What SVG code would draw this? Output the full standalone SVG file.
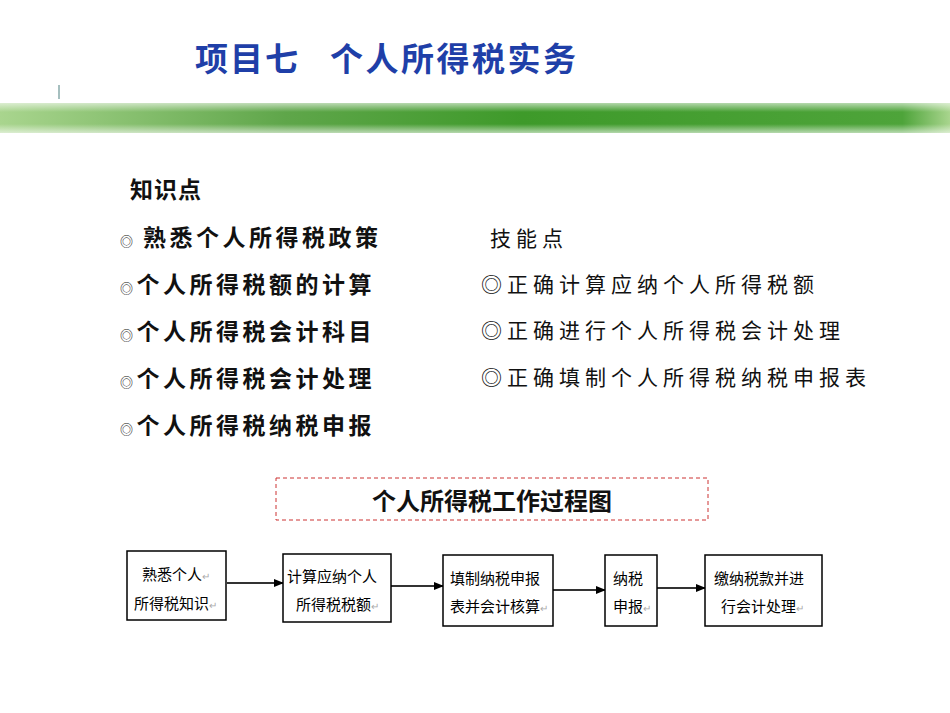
<svg xmlns="http://www.w3.org/2000/svg" width="950" height="713" viewBox="0 0 950 713">
<defs>
<linearGradient id="band" x1="0" x2="1" y1="0" y2="0">
<stop offset="0" stop-color="#a9d58e"/><stop offset="0.3" stop-color="#5fa64a"/><stop offset="0.55" stop-color="#3e9a2a"/><stop offset="0.95" stop-color="#4ea43a"/><stop offset="1" stop-color="#a9d58e"/>
</linearGradient>
<linearGradient id="bandv" x1="0" x2="0" y1="0" y2="1">
<stop offset="0" stop-color="#fff" stop-opacity="0.6"/><stop offset="0.3" stop-color="#fff" stop-opacity="0"/><stop offset="0.7" stop-color="#fff" stop-opacity="0"/><stop offset="1" stop-color="#fff" stop-opacity="0.6"/>
</linearGradient>
<marker id="ah" markerWidth="10" markerHeight="8" refX="9" refY="4" orient="auto" markerUnits="userSpaceOnUse"><path d="M0,0 L10,4 L0,8 z" fill="#000"/></marker>
<style>
.t{font-family:"Noto Sans CJK SC",sans-serif;}
.k{font-weight:bold;font-size:23px;fill:#111;letter-spacing:3.5px;}
.s{font-size:21px;fill:#111;letter-spacing:5px;}
.b{fill:#fff;stroke:#000;stroke-width:1.5;}
.n{font-size:15px;fill:#000;}
.r{fill:#aaa;font-size:10px;}
.c{stroke:#333;stroke-width:2;fill:none;marker-end:url(#ah);}
</style>
</defs>
<rect width="950" height="713" fill="#fff"/>
<text class="t" x="195" y="71" font-size="33" font-weight="bold" fill="#1f3fa8" letter-spacing="2">项目七</text>
<text class="t" x="330" y="71" font-size="33" font-weight="bold" fill="#1f3fa8" letter-spacing="2.5">个人所得税实务</text>
<line x1="59" y1="85" x2="59" y2="99" stroke="#8aa" stroke-width="1.5"/>
<rect x="0" y="103" width="950" height="30" fill="url(#band)"/>
<rect x="0" y="103" width="950" height="30" fill="url(#bandv)"/>
<text class="t k" x="130" y="198" style="letter-spacing:1px">知识点</text>
<text class="t k" x="120" y="246"><tspan font-size="13" font-weight="normal">◎ </tspan>熟悉个人所得税政策</text>
<text class="t k" x="120" y="293"><tspan font-size="13" font-weight="normal">◎</tspan>个人所得税额的计算</text>
<text class="t k" x="120" y="340"><tspan font-size="13" font-weight="normal">◎</tspan>个人所得税会计科目</text>
<text class="t k" x="120" y="387"><tspan font-size="13" font-weight="normal">◎</tspan>个人所得税会计处理</text>
<text class="t k" x="120" y="434"><tspan font-size="13" font-weight="normal">◎</tspan>个人所得税纳税申报</text>
<text class="t s" x="490" y="246">技能点</text>
<text class="t s" x="481" y="292">◎正确计算应纳个人所得税额</text>
<text class="t s" x="481" y="338">◎正确进行个人所得税会计处理</text>
<text class="t s" x="481" y="385">◎正确填制个人所得税纳税申报表</text>
<g id="title-box">
<rect x="276" y="478" width="432" height="42" fill="#fff" stroke="#c33" stroke-width="1" stroke-dasharray="4,3"/>
<text class="t" x="492" y="510" text-anchor="middle" font-size="24" font-weight="bold" fill="#111">个人所得税工作过程图</text>
</g>
<g id="connectors">
<line class="c" x1="227" y1="583" x2="283" y2="583"/>
<line class="c" x1="391" y1="586" x2="443" y2="586"/>
<line class="c" x1="553" y1="590" x2="605" y2="590"/>
<line class="c" x1="657" y1="588" x2="705" y2="588"/>
</g>
<g id="n1"><rect class="b" x="127" y="551" width="99" height="69"/>
<text class="t n" x="142" y="580">熟悉个人<tspan class="r">↵</tspan></text>
<text class="t n" x="134" y="609">所得税知识<tspan class="r">↵</tspan></text></g>
<g id="n2"><rect class="b" x="283" y="554" width="108" height="68"/>
<text class="t n" x="287" y="582">计算应纳个人</text>
<text class="t n" x="296" y="610">所得税税额<tspan class="r">↵</tspan></text></g>
<g id="n3"><rect class="b" x="443" y="555" width="110" height="71"/>
<text class="t n" x="450" y="584">填制纳税申报</text>
<text class="t n" x="450" y="612">表并会计核算<tspan class="r">↵</tspan></text></g>
<g id="n4"><rect class="b" x="605" y="555" width="52" height="71"/>
<text class="t n" x="613" y="584">纳税</text>
<text class="t n" x="613" y="612">申报<tspan class="r">↵</tspan></text></g>
<g id="n5"><rect class="b" x="705" y="555" width="117" height="71"/>
<text class="t n" x="714" y="584">缴纳税款并进</text>
<text class="t n" x="721" y="612">行会计处理<tspan class="r">↵</tspan></text></g>
</svg>
